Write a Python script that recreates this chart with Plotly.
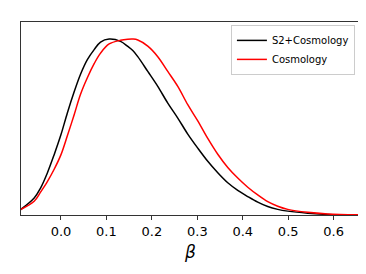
import plotly.graph_objects as go

beta = [-0.089, -0.059, -0.045, -0.030, -0.015, 0.0, 0.014, 0.029, 0.043, 0.058, 0.073, 0.087,
        0.106, 0.131, 0.147, 0.158, 0.169, 0.191, 0.213, 0.235, 0.257, 0.279, 0.301, 0.323, 0.345,
        0.367, 0.389, 0.411, 0.433, 0.455, 0.477, 0.499, 0.543, 0.587, 0.658]
s2_cosmo = [0.031, 0.097, 0.153, 0.239, 0.343, 0.457, 0.58, 0.70, 0.80, 0.883, 0.94, 0.983,
            1.0, 0.987, 0.958, 0.935, 0.90, 0.816, 0.731, 0.636, 0.551, 0.46, 0.38, 0.305, 0.24,
            0.183, 0.14, 0.105, 0.073, 0.048, 0.032, 0.022, 0.01, 0.003, 0.0]
cosmo = [0.031, 0.078, 0.13, 0.19, 0.26, 0.343, 0.45, 0.57, 0.686, 0.78, 0.86, 0.92,
         0.972, 0.993, 0.999, 1.0, 0.995, 0.96, 0.90, 0.816, 0.731, 0.627, 0.535, 0.435, 0.345,
         0.27, 0.21, 0.158, 0.114, 0.076, 0.05, 0.032, 0.015, 0.006, 0.001]
xticks = [0.0, 0.1, 0.2, 0.3, 0.4, 0.5, 0.6]

fig = go.Figure()
fig.add_trace(go.Scatter(x=beta, y=s2_cosmo, mode="lines", name="S2+Cosmology",
                         line=dict(color="black", width=1.5, shape="spline", smoothing=1.0)))
fig.add_trace(go.Scatter(x=beta, y=cosmo, mode="lines", name="Cosmology",
                         line=dict(color="red", width=1.5, shape="spline", smoothing=1.0)))

fig.update_layout(
    width=366, height=274,
    margin=dict(l=13, r=14, t=14, b=67),
    plot_bgcolor="white", paper_bgcolor="white",
    font=dict(family="DejaVu Sans", color="black"),
    showlegend=True,
    legend=dict(x=0.985, y=0.985, xanchor="right", yanchor="top",
                bgcolor="white", bordercolor="#cccccc", borderwidth=1,
                font=dict(size=10), tracegroupgap=0, itemwidth=30),
    xaxis=dict(range=[-0.088, 0.658], tickvals=xticks,
               ticktext=[f"{v:.1f}" for v in xticks],
               showgrid=False, zeroline=False, showline=True, mirror=True,
               linecolor="#333", linewidth=1, ticks="outside", ticklen=4,
               tickcolor="#333", tickfont=dict(size=13),
               title=dict(text="<i>β</i>", font=dict(size=17), standoff=8)),
    yaxis=dict(range=[0, 1.097], showticklabels=False, showgrid=False,
               zeroline=False, showline=True, mirror=True, linecolor="#333",
               linewidth=1, ticks=""),
)

fig.write_html("out.html")
